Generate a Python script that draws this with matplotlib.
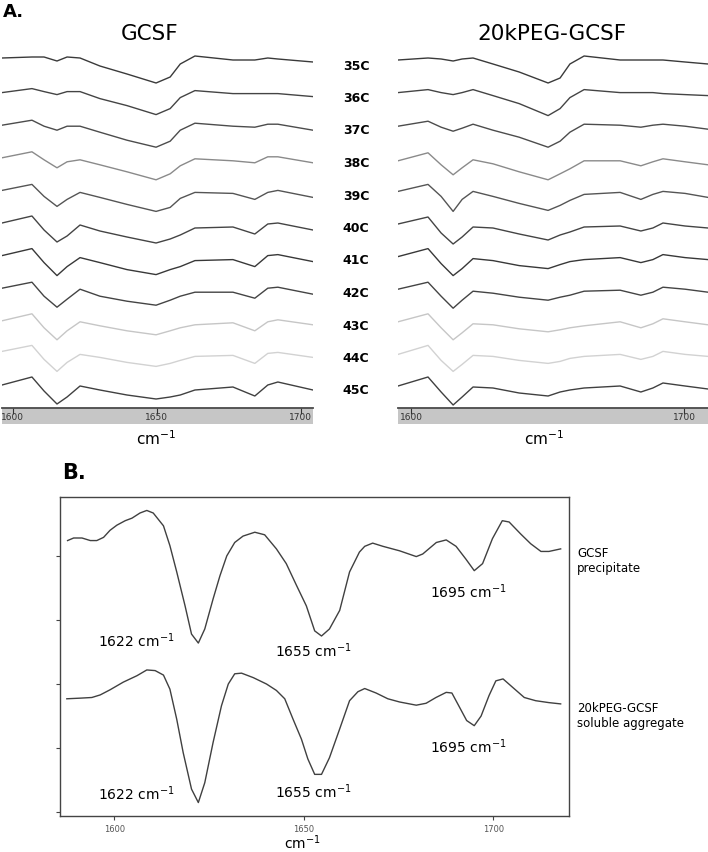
import matplotlib.pyplot as plt

W, H = 708, 853

# ---- panel A: second-derivative FTIR traces, 35-45 C ----
temps = ['35C', '36C', '37C', '38C', '39C', '40C', '41C', '42C', '43C', '44C', '45C']

gcsf_wn = [1596.3, 1606.7, 1610.9, 1615.4, 1618.9, 1623.4, 1630.3, 1639.7, 1649.8,
           1654.7, 1658.2, 1663.3, 1676.5, 1684.1, 1688.6, 1692.1, 1704.3]
gcsf_traces = [
    [0.1, 0.2, 0.2, -0.2, 0.2, 0.1, -0.7, -1.5, -2.4, -1.8, -0.5, 0.3, -0.1, -0.1, 0.1, 0.0, -0.3],
    [-0.1, 0.3, 0.0, -0.3, 0.0, 0.0, -0.7, -1.4, -2.3, -1.7, -0.6, 0.1, -0.2, -0.2, -0.2, -0.2, -0.5],
    [-0.1, 0.4, -0.2, -0.6, -0.2, -0.2, -0.8, -1.6, -2.3, -1.7, -0.6, 0.1, -0.2, -0.3, 0.0, 0.0, -0.6],
    [-0.1, 0.5, -0.3, -1.1, -0.5, -0.3, -0.8, -1.5, -2.3, -1.7, -0.9, -0.2, -0.4, -0.6, 0.0, 0.0, -0.6],
    [-0.1, 0.5, -0.7, -1.7, -1.0, -0.3, -0.8, -1.5, -2.2, -1.8, -0.9, -0.3, -0.4, -1.0, -0.3, -0.1, -0.8],
    [-0.1, 0.6, -0.8, -2.0, -1.4, -0.3, -0.9, -1.5, -2.1, -1.7, -1.3, -0.6, -0.5, -1.2, -0.2, -0.1, -0.8],
    [-0.1, 0.6, -0.8, -2.1, -1.2, -0.3, -0.8, -1.5, -2.0, -1.5, -1.2, -0.6, -0.5, -1.2, -0.1, 0.0, -0.7],
    [-0.1, 0.5, -0.9, -2.0, -1.2, -0.2, -0.9, -1.4, -1.8, -1.3, -0.9, -0.5, -0.5, -1.1, -0.1, 0.0, -0.7],
    [-0.1, 0.6, -0.8, -2.0, -1.1, -0.2, -0.6, -1.1, -1.5, -1.1, -0.8, -0.5, -0.3, -1.1, -0.2, 0.0, -0.5],
    [0.1, 0.7, -0.7, -1.9, -1.0, -0.2, -0.5, -1.0, -1.4, -1.1, -0.8, -0.4, -0.3, -1.1, -0.1, 0.0, -0.5],
    [0.0, 0.8, -0.6, -1.9, -1.2, -0.1, -0.5, -1.0, -1.4, -1.2, -1.0, -0.5, -0.2, -1.1, 0.0, 0.3, -0.5],
]

peg_wn = [1595.2, 1606.2, 1611.0, 1615.4, 1618.7, 1622.7, 1630.0, 1639.6, 1650.2,
          1654.6, 1658.2, 1663.4, 1676.6, 1684.2, 1688.6, 1692.3, 1700.4, 1708.8]
peg_traces = [
    [-0.1, 0.1, 0.0, -0.2, 0.0, 0.1, -0.5, -1.3, -2.4, -1.9, -0.5, 0.3, -0.1, -0.1, -0.1, -0.1, -0.3, -0.5],
    [-0.1, 0.2, -0.1, -0.3, -0.1, 0.2, -0.4, -1.2, -2.4, -1.7, -0.6, 0.2, -0.1, -0.1, -0.1, -0.2, -0.3, -0.4],
    [-0.2, 0.3, -0.3, -0.7, -0.4, 0.0, -0.6, -1.3, -2.3, -1.7, -0.8, 0.0, -0.1, -0.3, -0.1, 0.0, -0.2, -0.5],
    [-0.4, 0.4, -0.8, -1.8, -1.1, -0.3, -0.7, -1.5, -2.3, -1.7, -1.2, -0.4, -0.4, -0.9, -0.5, -0.2, -0.5, -0.8],
    [-0.2, 0.5, -0.7, -2.2, -1.0, -0.2, -0.7, -1.4, -2.1, -1.6, -1.1, -0.5, -0.3, -1.0, -0.5, -0.2, -0.4, -0.8],
    [-0.2, 0.5, -1.1, -2.2, -1.5, -0.5, -0.6, -1.2, -1.8, -1.3, -1.0, -0.5, -0.4, -0.9, -0.6, -0.1, -0.4, -0.6],
    [-0.2, 0.6, -0.9, -2.1, -1.4, -0.4, -0.6, -1.1, -1.4, -1.0, -0.7, -0.5, -0.3, -0.8, -0.5, 0.0, -0.3, -0.5],
    [-0.2, 0.5, -0.9, -2.1, -1.3, -0.4, -0.6, -1.0, -1.3, -1.0, -0.8, -0.4, -0.3, -0.8, -0.5, 0.0, -0.2, -0.5],
    [-0.2, 0.6, -0.8, -2.0, -1.3, -0.4, -0.5, -0.9, -1.2, -1.0, -0.8, -0.6, -0.2, -0.8, -0.4, 0.1, -0.2, -0.5],
    [-0.2, 0.7, -0.8, -1.9, -1.2, -0.3, -0.4, -0.8, -1.1, -0.9, -0.6, -0.4, -0.2, -0.7, -0.4, 0.1, -0.2, -0.4],
    [-0.1, 0.8, -0.7, -2.0, -1.2, -0.2, -0.3, -0.8, -1.1, -0.7, -0.5, -0.3, -0.1, -0.7, -0.3, 0.2, -0.1, -0.4],
]

trace_colors = ['#3a3a3a', '#444444', '#4c4c4c', '#8a8a8a', '#555555', '#444444',
                '#383838', '#444444', '#c6c6c6', '#d2d2d2', '#404040']

# ---- panel B: precipitate vs soluble aggregate ----
precip_wn = [1587.7, 1589.3, 1591.5, 1593.7, 1595.4, 1597.2, 1598.9, 1600.7, 1602.9, 1604.7,
             1606.8, 1608.6, 1610.3, 1613.0, 1614.7, 1616.5, 1618.7, 1620.4, 1622.2, 1623.9,
             1626.1, 1627.9, 1629.7, 1631.8, 1634.0, 1637.1, 1639.7, 1642.8, 1645.4, 1648.1,
             1650.7, 1652.9, 1654.7, 1656.8, 1659.5, 1662.1, 1664.7, 1666.1, 1668.2, 1670.9,
             1675.3, 1679.7, 1681.4, 1685.0, 1687.6, 1690.2, 1692.8, 1695.0, 1697.2, 1699.8,
             1702.4, 1704.2, 1707.3, 1709.9, 1712.6, 1714.7, 1717.8]
precip = [4.24, 4.28, 4.28, 4.24, 4.24, 4.29, 4.40, 4.48, 4.55, 4.59,
          4.67, 4.71, 4.67, 4.47, 4.16, 3.75, 3.22, 2.78, 2.64, 2.86,
          3.33, 3.69, 4.00, 4.21, 4.31, 4.37, 4.33, 4.11, 3.88, 3.54,
          3.22, 2.83, 2.75, 2.86, 3.15, 3.75, 4.06, 4.15, 4.20, 4.15,
          4.08, 3.99, 4.03, 4.21, 4.25, 4.15, 3.95, 3.77, 3.88, 4.27,
          4.55, 4.53, 4.34, 4.19, 4.07, 4.07, 4.11]

aggr_wn = [1587.5, 1591.1, 1594.1, 1596.3, 1598.9, 1602.4, 1606.0, 1608.6, 1610.8, 1613.0,
           1614.7, 1616.5, 1618.2, 1620.4, 1622.2, 1623.9, 1626.1, 1628.3, 1630.1, 1631.8,
           1633.6, 1636.7, 1640.2, 1642.8, 1645.0, 1647.2, 1649.4, 1651.1, 1652.9, 1654.7,
           1656.8, 1659.5, 1662.1, 1664.3, 1666.1, 1669.1, 1672.2, 1675.3, 1679.7, 1682.3,
           1684.9, 1687.6, 1689.1, 1691.1, 1693.0, 1695.0, 1696.8, 1698.9, 1700.7, 1702.6,
           1705.1, 1708.2, 1711.2, 1714.7, 1717.8]
aggr = [1.77, 1.78, 1.79, 1.83, 1.91, 2.03, 2.13, 2.22, 2.21, 2.14,
        1.92, 1.45, 0.93, 0.36, 0.15, 0.46, 1.09, 1.66, 2.00, 2.16,
        2.17, 2.10, 2.00, 1.90, 1.77, 1.45, 1.14, 0.83, 0.59, 0.59,
        0.85, 1.30, 1.74, 1.88, 1.93, 1.86, 1.77, 1.72, 1.67, 1.70,
        1.79, 1.87, 1.86, 1.64, 1.43, 1.35, 1.50, 1.82, 2.05, 2.08,
        1.95, 1.79, 1.74, 1.71, 1.69]

peak_names = ['1622', '1655', '1695']


def box(x0, y0, x1, y1):
    # pixel rectangle -> figure fraction
    return [x0 / W, 1 - y1 / H, (x1 - x0) / W, (y1 - y0) / H]


fig = plt.figure(figsize=(W / 100, H / 100), dpi=100)
step = 3.26


def stack_panel(x0, x1, wn, traces, xlim, ticks):
    ax = fig.add_axes(box(x0, 45, x1, 409))
    for i, tr in enumerate(traces):
        ax.plot(wn, [v - i * step for v in tr], color=trace_colors[i], lw=1.0)
    ax.set_xlim(*xlim)
    ax.set_ylim(-34.9, 1.5)
    ax.axis('off')
    bar = fig.add_axes(box(x0, 409, x1, 425))
    bar.set_facecolor('#c6c6c6')
    bar.set_xlim(*xlim)
    bar.set_yticks([])
    bar.set_xticks(ticks)
    for s in ['left', 'right', 'bottom']:
        bar.spines[s].set_visible(False)
    bar.spines['top'].set_color('#4a4a4a')
    bar.spines['top'].set_linewidth(1.3)
    bar.tick_params(axis='x', direction='in', top=True, bottom=False, length=4,
                    color='#333333', labelbottom=True, pad=-8.5, labelsize=6.5,
                    labelcolor='#333333')


stack_panel(2, 313, gcsf_wn, gcsf_traces, (1596.3, 1704.3), [1600, 1650, 1700])
stack_panel(398, 708, peg_wn, peg_traces, (1595.2, 1708.8), [1600, 1700])

fig.text(3 / W, 1 - 12 / H, 'A.', fontsize=13, fontweight='bold', va='center')
fig.text(150 / W, 1 - 34 / H, 'GCSF', fontsize=15.5, ha='center', va='center')
fig.text(552 / W, 1 - 34 / H, '20kPEG-GCSF', fontsize=15.5, ha='center', va='center')
for i, t in enumerate(temps):
    fig.text(356 / W, 1 - (66 + 32.5 * i) / H, t, fontsize=9, fontweight='bold',
             ha='center', va='center')
fig.text(156 / W, 1 - 439 / H, 'cm$^{-1}$', fontsize=11, ha='center', va='center')
fig.text(544 / W, 1 - 439 / H, 'cm$^{-1}$', fontsize=11, ha='center', va='center')

# ---- panel B ----
axb = fig.add_axes(box(60, 498, 569, 817))
axb.plot(precip_wn, precip, color='#404040', lw=1.0)
axb.plot(aggr_wn, aggr, color='#404040', lw=1.0)
axb.set_xlim(1585.7, 1720)
axb.set_ylim(-0.06, 4.92)
axb.set_xticks([1600, 1650, 1700])
axb.set_yticks([0, 1, 2, 3, 4])
axb.set_yticklabels([])
axb.tick_params(direction='out', length=3, width=0.8, color='#444444',
                labelsize=6, labelcolor='#555555', pad=3)
for s in axb.spines.values():
    s.set_color('#444444')
    s.set_linewidth(1.0)

upper_pos = [(1605.7, 2.70), (1652.5, 2.53), (1693.3, 3.45)]
lower_pos = [(1605.7, 0.30), (1652.5, 0.33), (1693.3, 1.03)]
for name, (x, y) in zip(peak_names, upper_pos):
    axb.text(x, y, name + ' cm$^{-1}$', fontsize=10, ha='center', va='center')
for name, (x, y) in zip(peak_names, lower_pos):
    axb.text(x, y, name + ' cm$^{-1}$', fontsize=10, ha='center', va='center')

fig.text(62 / W, 1 - 473 / H, 'B.', fontsize=15, fontweight='bold', va='center')
fig.text(577 / W, 1 - 561 / H, 'GCSF\nprecipitate', fontsize=8.5, va='center',
         linespacing=1.15)
fig.text(577 / W, 1 - 716 / H, '20kPEG-GCSF\nsoluble aggregate', fontsize=8.5,
         va='center', linespacing=1.15)
fig.text(302 / W, 1 - 843 / H, 'cm$^{-1}$', fontsize=10, ha='center', va='center')

fig.savefig('out.png', dpi=100)
